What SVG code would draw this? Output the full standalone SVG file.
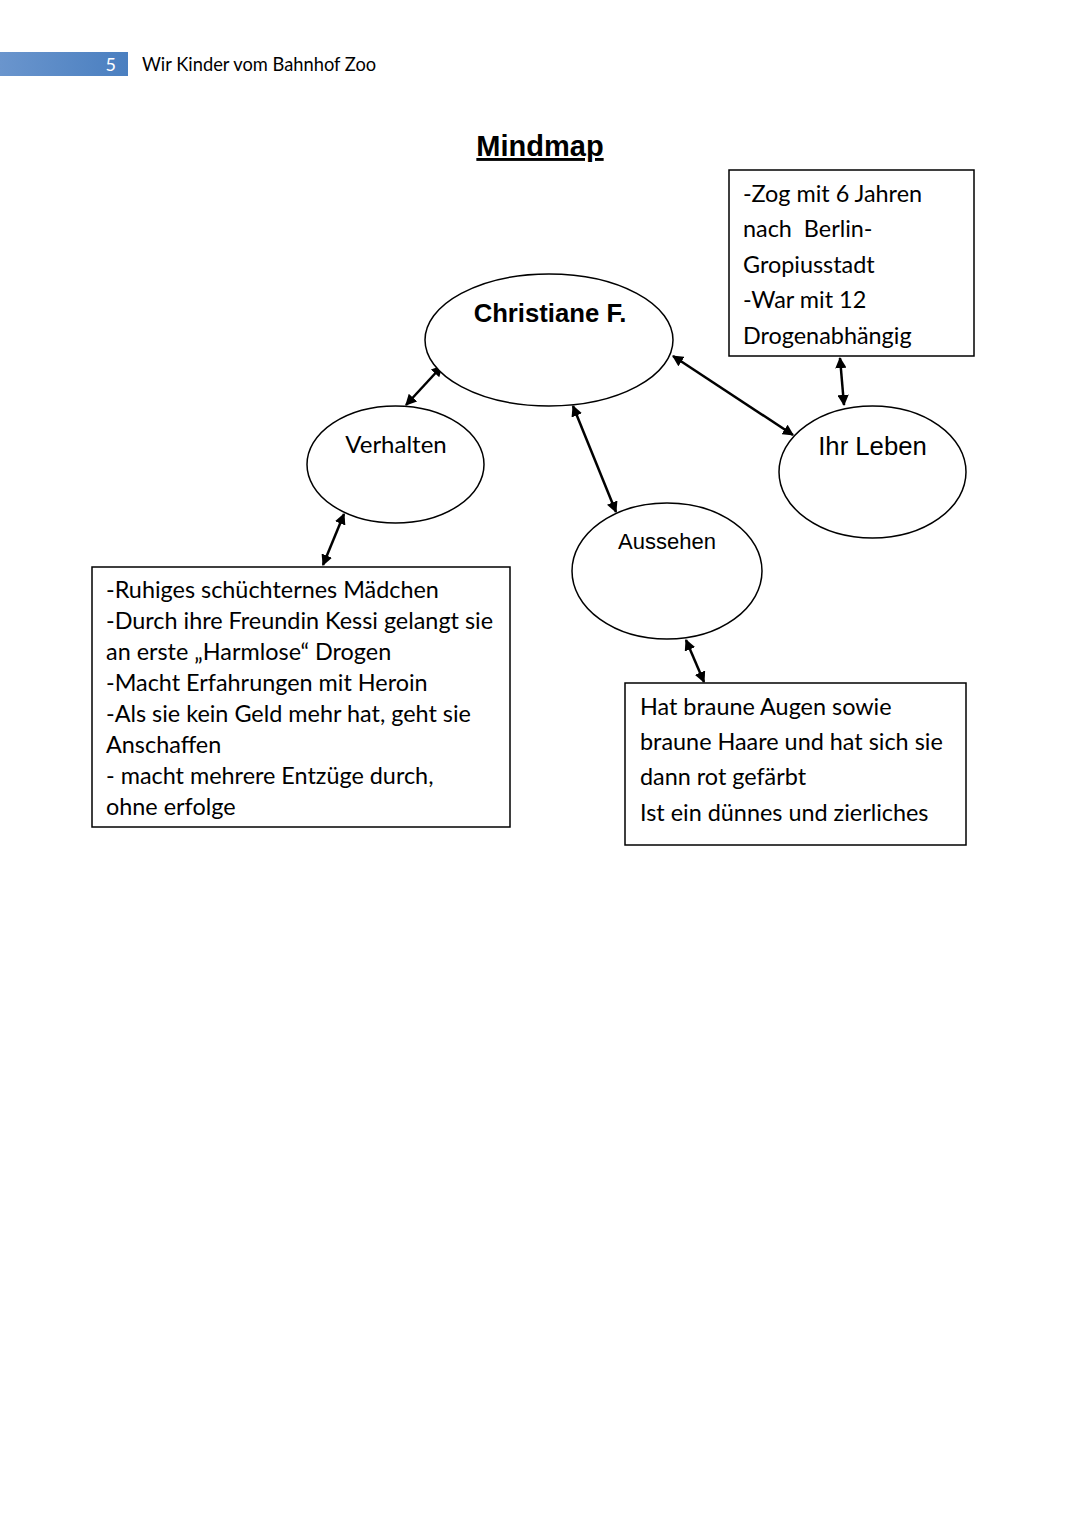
<svg xmlns="http://www.w3.org/2000/svg" width="1080" height="1527" viewBox="0 0 1080 1527">
<defs>
<linearGradient id="hdr" x1="0" y1="0" x2="1" y2="0">
<stop offset="0" stop-color="#6a95cd"/>
<stop offset="1" stop-color="#4a7fc0"/>
</linearGradient>
<marker id="ah" viewBox="0 0 10 10" refX="9" refY="5" markerWidth="4.5" markerHeight="4.5" orient="auto-start-reverse" markerUnits="strokeWidth">
<path d="M0,0 L10,5 L0,10 z" fill="#000"/>
</marker>
<style>
.el{fill:#fff;stroke:#000;stroke-width:1.5}
.bx{fill:#fff;stroke:#000;stroke-width:1.5}
.c{font-family:Lato,"Open Sans","Liberation Sans",sans-serif;fill:#000;white-space:pre}
.a{font-family:"Liberation Sans",Arial,sans-serif;fill:#000}
.con line{stroke:#000;stroke-width:2.5;marker-start:url(#ah);marker-end:url(#ah)}
</style>
</defs>
<rect width="1080" height="1527" fill="#fff"/>
<g id="header">
<rect x="0" y="52" width="128" height="24" fill="url(#hdr)"/>
<text x="116" y="71" class="c" font-size="18" style="fill:#fff" text-anchor="end">5</text>
<text x="142" y="71" class="c" font-size="18.3">Wir Kinder vom Bahnhof Zoo</text>
</g>
<g id="title">
<text x="540" y="156" class="a" font-size="29" font-weight="bold" text-anchor="middle" text-decoration="underline">Mindmap</text>
</g>
<g class="con" id="connectors">
<line x1="442" y1="366" x2="406" y2="405"/>
<line x1="573" y1="406" x2="616" y2="512"/>
<line x1="673" y1="356" x2="793" y2="435"/>
<line x1="840" y1="358" x2="844" y2="405"/>
<line x1="344" y1="514" x2="323" y2="565"/>
<line x1="686" y1="640" x2="704" y2="682"/>
</g>
<g id="christiane">
<ellipse class="el" cx="549" cy="340" rx="124" ry="66"/>
<text x="550" y="322" class="a" font-size="25.7" font-weight="bold" text-anchor="middle">Christiane F.</text>
</g>
<g id="verhalten">
<ellipse class="el" cx="395.5" cy="464.5" rx="88.5" ry="58.5"/>
<text x="396" y="453" class="c" font-size="24" text-anchor="middle">Verhalten</text>
</g>
<g id="aussehen">
<ellipse class="el" cx="667" cy="571" rx="95" ry="68"/>
<text x="667" y="549" class="a" font-size="22" text-anchor="middle">Aussehen</text>
</g>
<g id="ihrleben">
<ellipse class="el" cx="872.5" cy="472" rx="93.5" ry="66"/>
<text x="872.5" y="455" class="a" font-size="25.7" text-anchor="middle">Ihr Leben</text>
</g>
<g id="box-leben">
<rect class="bx" x="729" y="170" width="245" height="186"/>
<text class="c" font-size="23.4">
<tspan x="743" y="202">-Zog mit 6 Jahren</tspan>
<tspan x="743" y="237">nach  Berlin-</tspan>
<tspan x="743" y="273">Gropiusstadt</tspan>
<tspan x="743" y="308">-War mit 12</tspan>
<tspan x="743" y="344">Drogenabhängig</tspan>
</text>
</g>
<g id="box-verhalten">
<rect class="bx" x="92" y="567" width="418" height="260"/>
<text class="c" font-size="23.4">
<tspan x="106" y="598">-Ruhiges schüchternes Mädchen</tspan>
<tspan x="106" y="629">-Durch ihre Freundin Kessi gelangt sie</tspan>
<tspan x="106" y="660">an erste „Harmlose“ Drogen</tspan>
<tspan x="106" y="691">-Macht Erfahrungen mit Heroin</tspan>
<tspan x="106" y="722">-Als sie kein Geld mehr hat, geht sie</tspan>
<tspan x="106" y="753">Anschaffen</tspan>
<tspan x="106" y="784">- macht mehrere Entzüge durch,</tspan>
<tspan x="106" y="815">ohne erfolge</tspan>
</text>
</g>
<g id="box-aussehen">
<rect class="bx" x="625" y="683" width="341" height="162"/>
<text class="c" font-size="23.4">
<tspan x="640" y="715">Hat braune Augen sowie</tspan>
<tspan x="640" y="750">braune Haare und hat sich sie</tspan>
<tspan x="640" y="785">dann rot gefärbt</tspan>
<tspan x="640" y="821">Ist ein dünnes und zierliches</tspan>
</text>
</g>
</svg>
